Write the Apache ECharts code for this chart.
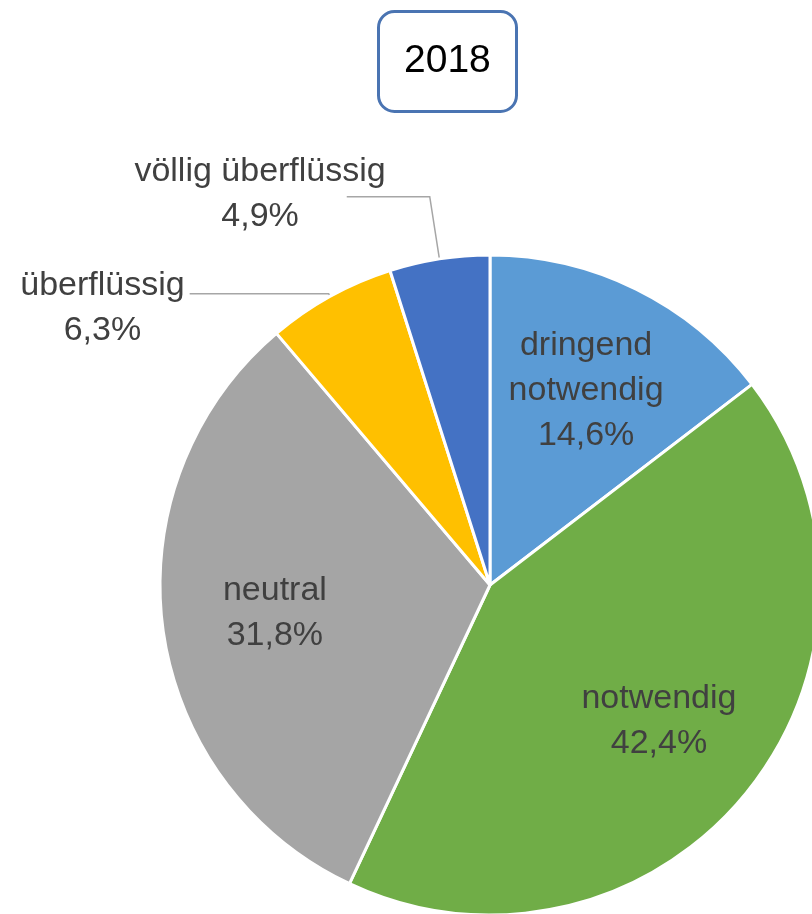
<!DOCTYPE html>
<html><head><meta charset="utf-8">
<script src="https://cdn.jsdelivr.net/npm/echarts@6/dist/echarts.min.js"></script>
<style>html,body{margin:0;padding:0;background:#fff}#c{width:812px;height:914px}</style>
</head><body><div id="c"></div>
<script>
const titleText = '2018';
const categories = ['dringend\nnotwendig', 'notwendig', 'neutral', 'überflüssig', 'völlig überflüssig'];
const values = [14.6, 42.4, 31.8, 6.3, 4.9];
const colors = ['#5B9BD5', '#70AD47', '#A5A5A5', '#FFC000', '#4472C4'];
const insideSlices = [0, 1, 2];

const FONT = 'Liberation Sans';
const TXT = '#404040';
const pct = v => v.toFixed(1).replace('.', ',') + '%';
const fmt = p => p.name.split('\n').concat([pct(p.value)]).map(s => '{a|' + s + '}').join('\n');
const rich = { a: { fontFamily: FONT, fontSize: 34, lineHeight: 45, color: TXT, align: 'center' } };

const outsideCfg = {
  3: { length: 3, length2: 139, dist: 5, padding: [28, 0, 0, 0] },
  4: { length: 63, length2: 83, dist: -39, padding: [0, 0, 6, 0] }
};

const mainData = categories.map((c, i) => {
  const item = { name: c, value: values[i], itemStyle: { color: colors[i] } };
  if (outsideCfg[i]) {
    const o = outsideCfg[i];
    item.label = { show: true, position: 'outside', distanceToLabelLine: o.dist, padding: o.padding };
    item.labelLine = { show: true, length: o.length, length2: o.length2 };
  } else {
    item.label = { show: false };
    item.labelLine = { show: false };
  }
  return item;
});
const ghostData = categories.map((c, i) => ({
  name: c, value: values[i],
  itemStyle: { color: 'rgba(0,0,0,0)', borderWidth: 0 },
  label: { show: insideSlices.includes(i) }
}));

const chart = echarts.init(document.getElementById('c'), null, { renderer: 'canvas' });
chart.setOption({
  animation: false,
  backgroundColor: '#ffffff',
  title: {
    text: titleText, left: 378, top: 11,
    padding: [31, 26, 31, 26],
    borderColor: '#4A74B2', borderWidth: 3, borderRadius: 16,
    backgroundColor: '#ffffff',
    textStyle: { fontFamily: FONT, fontSize: 39, lineHeight: 39, color: '#000', fontWeight: 'normal' }
  },
  series: [
    {
      type: 'pie', center: [490, 585], radius: [0, 330], startAngle: 90, clockwise: true,
      avoidLabelOverlap: false, silent: true,
      itemStyle: { borderColor: '#ffffff', borderWidth: 3 },
      label: { formatter: fmt, rich: rich, overflow: 'none', alignTo: 'none' },
      labelLine: { lineStyle: { color: '#A6A6A6', width: 1.5 } },
      emphasis: { disabled: true },
      data: mainData
    },
    {
      type: 'pie', center: [490, 585], radius: [0, 428], startAngle: 90, clockwise: true,
      avoidLabelOverlap: false, silent: true, z: 5,
      label: { position: 'inside', formatter: fmt, rich: rich, color: TXT, textBorderWidth: 0 },
      labelLine: { show: false },
      emphasis: { disabled: true },
      data: ghostData
    }
  ]
});
</script></body></html>
